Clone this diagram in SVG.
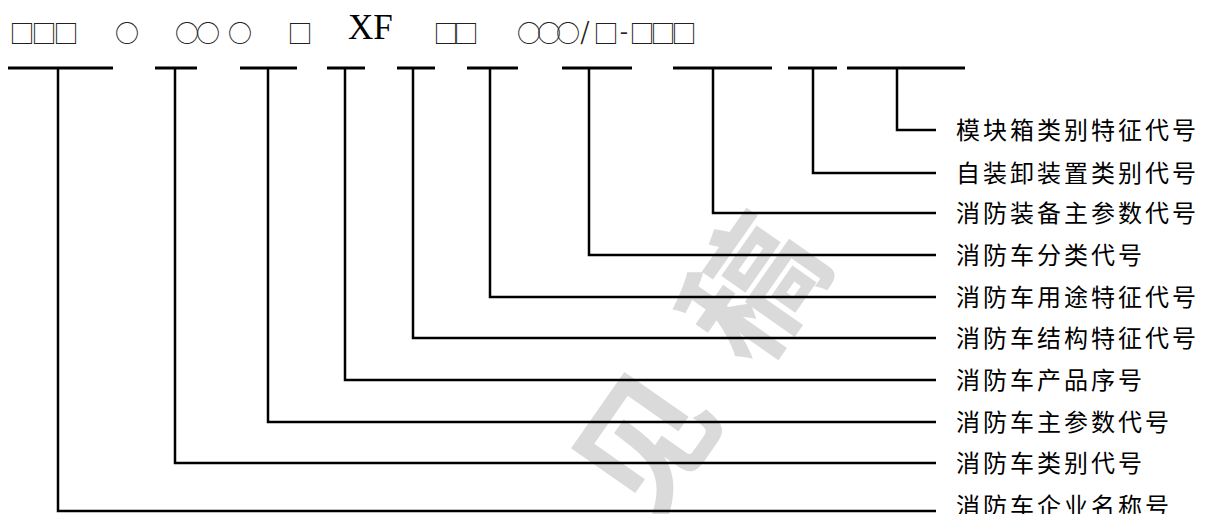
<svg xmlns="http://www.w3.org/2000/svg" width="1205" height="514" viewBox="0 0 1205 514">
<style>
.bar{stroke:#000;stroke-width:3;fill:none}
.con{stroke:#000;stroke-width:2.5;fill:none;stroke-linejoin:miter}
.lbl{font-family:"Noto Sans CJK SC","Noto Sans CJK JP",sans-serif;font-size:24px;letter-spacing:3px;fill:#000}
.sym{font-family:"Noto Sans CJK SC",sans-serif;fill:#222;text-anchor:middle}
.sq{font-size:25px}
.ci{font-size:24px}
.pu{font-size:24px}
.xf{font-family:"Liberation Serif",serif;font-size:35px;fill:#000}
.wm{font-family:"Noto Sans CJK SC",sans-serif;font-size:135px;font-weight:bold;fill:#dadada;text-anchor:middle}
</style>
<rect width="1205" height="514" fill="#fff"/>
<g id="watermark">
<text class="wm" transform="translate(752,288) rotate(-55)" y="51">稿</text>
<text class="wm" transform="translate(645,443) rotate(-55)" y="51">见</text>
<text class="wm" transform="translate(538,598) rotate(-55)" y="51">意</text>
</g>
<g id="code">
<text class="sym sq" x="22 44 66" y="43">□□□</text>
<text class="sym ci" x="127" y="42">○</text>
<text class="sym ci" x="187 208" y="42">○○</text>
<text class="sym ci" x="240" y="42">○</text>
<text class="sym sq" x="300" y="43">□</text>
<text class="xf" x="348" y="39">XF</text>
<text class="sym sq" x="446 466" y="43">□□</text>
<text class="sym" y="42"><tspan class="ci" x="529 549 568">○○○</tspan><tspan class="pu" x="585" y="40">/</tspan><tspan class="sq" x="606" y="43">□</tspan><tspan class="pu" x="624" y="40">-</tspan><tspan class="sq" x="642 663 684" y="43">□□□</tspan></text>
</g>
<g id="bars">
<line class="bar" x1="8" y1="68" x2="113" y2="68"/>
<line class="bar" x1="155" y1="68" x2="197" y2="68"/>
<line class="bar" x1="240" y1="68" x2="297" y2="68"/>
<line class="bar" x1="327" y1="68" x2="365" y2="68"/>
<line class="bar" x1="397" y1="68" x2="435" y2="68"/>
<line class="bar" x1="467" y1="68" x2="518" y2="68"/>
<line class="bar" x1="562" y1="68" x2="632" y2="68"/>
<line class="bar" x1="673" y1="68" x2="772" y2="68"/>
<line class="bar" x1="788" y1="68" x2="837" y2="68"/>
<line class="bar" x1="847" y1="68" x2="965" y2="68"/>
</g>
<g id="connectors">
<polyline class="con" points="897,68 897,130 936,130"/>
<polyline class="con" points="813,68 813,173 936,173"/>
<polyline class="con" points="713,68 713,213 936,213"/>
<polyline class="con" points="589,68 589,255 936,255"/>
<polyline class="con" points="490,68 490,297 936,297"/>
<polyline class="con" points="413,68 413,338 936,338"/>
<polyline class="con" points="345,68 345,380 936,380"/>
<polyline class="con" points="268,68 268,422 936,422"/>
<polyline class="con" points="175,68 175,463 936,463"/>
<polyline class="con" points="58,68 58,511 936,511"/>
</g>
<g id="labels">
<text class="lbl" x="956" y="139">模块箱类别特征代号</text>
<text class="lbl" x="956" y="182">自装卸装置类别代号</text>
<text class="lbl" x="956" y="222">消防装备主参数代号</text>
<text class="lbl" x="956" y="264">消防车分类代号</text>
<text class="lbl" x="956" y="306">消防车用途特征代号</text>
<text class="lbl" x="956" y="347">消防车结构特征代号</text>
<text class="lbl" x="956" y="389">消防车产品序号</text>
<text class="lbl" x="956" y="431">消防车主参数代号</text>
<text class="lbl" x="956" y="472">消防车类别代号</text>
<text class="lbl" x="956" y="515">消防车企业名称号</text>
</g>
</svg>
